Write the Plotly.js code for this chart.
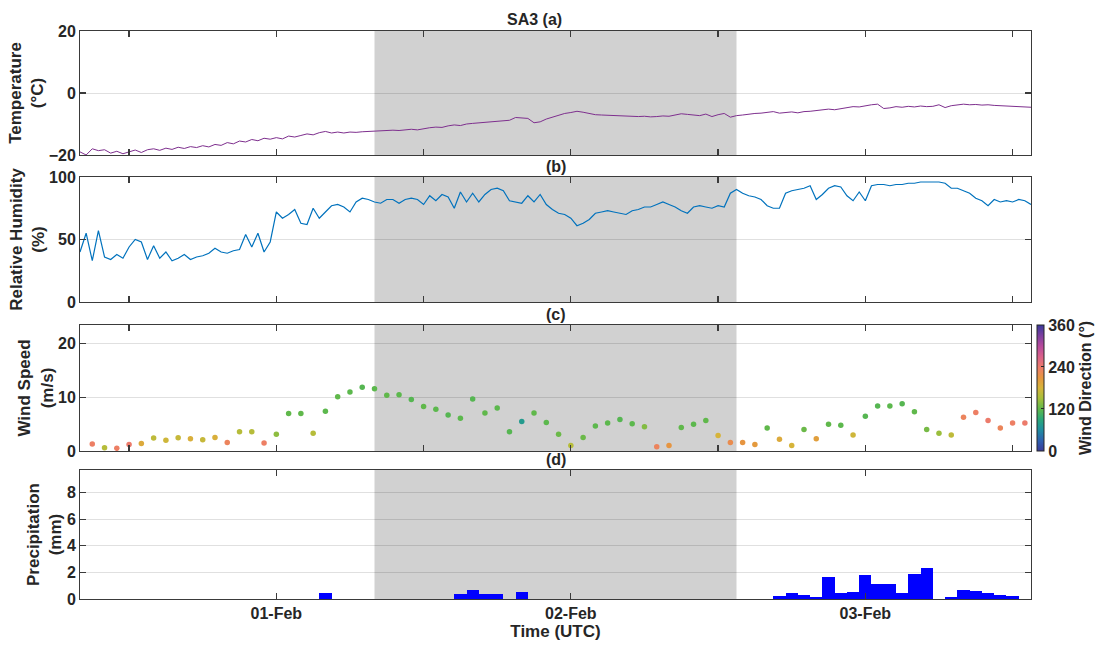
<!DOCTYPE html>
<html>
<head>
<meta charset="utf-8">
<script src="https://cdn.plot.ly/plotly-3.0.1.min.js"></script>
<style>html,body{margin:0;padding:0;background:#fff;}#chart{width:1101px;height:649px;}</style>
</head>
<body>
<div id="chart"></div>
<script>
// ---------- data ----------
const seriesStart = '2023-01-31 08:00';   // first 30-min sample
const stepMinutes = 30;
const xRange = ['2023-01-31 08:00', '2023-02-03 13:30'];
const nightStart = '2023-02-01 08:00';
const nightEnd = '2023-02-02 13:30';

const temperature = [
 -19.0,-20.0,-18.0,-18.6,-18.3,-19.4,-18.8,-19.6,-19.0,-18.4,
 -19.2,-18.3,-18.0,-18.5,-17.8,-18.2,-17.5,-17.9,-17.3,-17.6,
 -17.0,-17.4,-16.6,-16.9,-16.0,-16.4,-15.5,-15.8,-15.0,-15.4,
 -14.6,-14.9,-14.4,-14.8,-13.9,-14.2,-13.7,-13.2,-13.5,-12.8,
 -12.4,-12.9,-12.6,-12.9,-12.6,-12.7,-12.5,-12.4,-12.3,-12.1,
 -12.2,-12.0,-12.1,-11.8,-11.7,-11.9,-11.5,-11.2,-11.0,-11.1,
 -10.6,-10.3,-10.5,-10.0,-9.8,-9.6,-9.5,-9.3,-9.2,-9.0,
 -8.8,-7.9,-8.0,-8.2,-9.6,-9.3,-8.4,-7.8,-7.2,-6.6,
 -6.3,-5.9,-6.2,-6.6,-7.0,-7.1,-7.2,-7.2,-7.3,-7.5,
 -7.4,-7.6,-7.5,-7.7,-7.6,-7.4,-7.5,-7.1,-6.7,-6.9,
 -7.1,-7.3,-6.8,-7.6,-7.0,-6.6,-7.8,-7.3,-7.1,-6.8,
 -6.6,-6.5,-6.3,-6.0,-6.5,-6.3,-6.1,-6.4,-6.0,-5.9,
 -5.6,-5.4,-5.2,-5.4,-5.0,-4.8,-4.4,-4.5,-4.1,-3.8,
 -3.6,-5.0,-4.8,-4.4,-4.6,-4.3,-4.5,-4.2,-4.4,-4.3,
 -3.8,-4.7,-4.1,-3.8,-3.6,-3.8,-3.7,-3.9,-3.8,-4.0,
 -4.1,-4.1,-4.2,-4.3,-4.4,-4.6
];

const humidity = [
 40,55,33,57,36,34,38,35,44,50,
 48,34,45,35,40,33,35,38,34,36,
 37,39,43,40,39,41,42,54,44,55,
 40,48,72,67,70,74,63,62,75,67,
 72,77,78,76,72,80,83,82,80,79,
 82,82,79,82,83,82,78,85,81,86,
 84,75,88,80,87,80,86,90,91,89,
 81,80,79,85,80,86,78,74,71,70,
 67,61,63,66,71,72,73,72,71,70,
 73,74,76,76,78,80,78,76,73,71,
 76,77,76,75,77,76,87,90,87,85,
 84,82,77,75,75,87,89,90,91,93,
 82,86,91,93,92,85,81,88,81,93,
 94,94,93,94,94,95,95,96,96,96,
 96,95,91,91,89,87,83,81,77,82,
 80,81,80,82,81,78
];

const windStart = '2023-01-31 09:00';  // hourly
const windSpeed = [
 1.3,0.6,0.5,1.2,1.4,2.4,2.0,2.45,2.3,2.1,
 2.5,1.6,3.6,3.6,1.5,3.1,7.0,7.0,3.3,7.4,
 10.1,11.0,11.9,11.6,10.4,10.5,9.6,8.3,7.8,6.7,
 6.1,9.7,7.1,8.0,3.6,5.5,7.1,5.3,3.1,1.0,
 2.5,4.65,5.2,5.85,5.1,4.5,0.8,1.0,4.4,5.0,
 5.7,2.9,1.6,1.6,1.2,4.3,2.2,1.0,4.0,2.3,
 5.0,4.8,3.0,6.5,8.4,8.4,8.8,7.3,4.0,3.3,
 3.0,6.3,7.2,5.7,4.3,5.2,5.2
];
const windDir = [
 235,160,235,240,190,165,175,170,185,170,
 185,230,160,160,235,140,120,120,160,118,
 120,118,115,118,120,118,115,120,118,115,
 118,115,120,118,115,75,120,118,125,160,
 125,118,118,115,118,135,230,210,120,118,
 120,180,220,210,205,120,190,180,125,200,
 120,118,175,115,115,118,115,120,130,145,
 165,230,235,240,228,235,240
];

const precipTimes = [
 '2023-02-01 04:00','2023-02-01 15:00','2023-02-01 16:00','2023-02-01 17:00','2023-02-01 18:00','2023-02-01 20:00',
 '2023-02-02 17:00','2023-02-02 18:00','2023-02-02 19:00','2023-02-02 20:00','2023-02-02 21:00','2023-02-02 22:00','2023-02-02 23:00',
 '2023-02-03 00:00','2023-02-03 01:00','2023-02-03 02:00','2023-02-03 03:00','2023-02-03 04:00','2023-02-03 05:00',
 '2023-02-03 07:00','2023-02-03 08:00','2023-02-03 09:00','2023-02-03 10:00','2023-02-03 11:00','2023-02-03 12:00'
];
const precip = [
 0.42,0.40,0.65,0.40,0.40,0.52,
 0.26,0.47,0.32,0.16,1.63,0.42,0.50,
 1.82,1.10,1.10,0.42,1.89,2.34,
 0.16,0.68,0.58,0.42,0.29,0.21
];

const halfDayTicks = ['2023-01-31 12:00','2023-02-01 00:00','2023-02-01 12:00','2023-02-02 00:00','2023-02-02 12:00','2023-02-03 00:00','2023-02-03 12:00'];
const dayTicks = ['2023-02-01 00:00','2023-02-02 00:00','2023-02-03 00:00'];
const dayTickText = ['01-Feb','02-Feb','03-Feb'];

// ---------- helpers ----------
function toMs(s){ const [d,t]=s.split(' '); const [Y,M,D]=d.split('-').map(Number); const [h,m]=t.split(':').map(Number); return Date.UTC(Y,M-1,D,h,m); }
function timeSeries(start, stepMin, n){ const t0=toMs(start); const out=[]; for(let i=0;i<n;i++) out.push(t0+i*stepMin*60000); return out; }

const tT = timeSeries(seriesStart, stepMinutes, temperature.length);
const tH = timeSeries(seriesStart, stepMinutes, humidity.length);
const tW = timeSeries(windStart, 60, windSpeed.length);
const tP = precipTimes.map(toMs);

const TXT = '#262626';
const FONT = 'Liberation Sans, Arial, sans-serif';
const TICK = 16, TITLE = 17;

const dirScale = [
 [0,'#3a3a9a'],[0.08,'#2f5fb0'],[0.17,'#1f8fa0'],[0.25,'#2aa87a'],[0.33,'#5db84c'],
 [0.42,'#a8bf3a'],[0.5,'#d6b43a'],[0.58,'#e6963f'],[0.66,'#ee7d68'],[0.75,'#d9608a'],
 [0.83,'#b84a9c'],[0.92,'#7a3fa0'],[1,'#3a3a9a']
];

const dA = [0.7817,1.0], dB = [0.5229,0.7430], dC = [0.2606,0.4824], dD = [0,0.2271];

const traces = [
 {type:'scatter', mode:'lines', x:tT, y:temperature, xaxis:'x', yaxis:'y', line:{color:'#7E2F8E', width:1}, hoverinfo:'skip'},
 {type:'scatter', mode:'lines', x:tH, y:humidity, xaxis:'x2', yaxis:'y2', line:{color:'#0072BD', width:1.2}, hoverinfo:'skip'},
 {type:'scatter', mode:'markers', x:tW, y:windSpeed, xaxis:'x3', yaxis:'y3',
  marker:{size:5.5, color:windDir, colorscale:dirScale, cmin:0, cmax:360,
   colorbar:{x:1.0065, xanchor:'left', xref:'paper', y:(dC[0]+dC[1])/2, yanchor:'middle', len:dC[1]-dC[0], lenmode:'fraction',
    thickness:7, xpad:0, ypad:0, outlinewidth:1, outlinecolor:'#262626', tickvals:[0,120,240,360], ticks:'inside', ticklen:3, tickcolor:'#262626',
    tickfont:{family:FONT, size:TICK, color:TXT, weight:'bold'},
    title:{text:'Wind Direction (°)', side:'right', font:{family:FONT, size:TITLE-1, color:TXT, weight:'bold'}}}},
  hoverinfo:'skip'},
 {type:'bar', x:tP, y:precip, xaxis:'x4', yaxis:'y4', width:3600000, marker:{color:'#0000FF', line:{width:0}}, hoverinfo:'skip'}
];

const common = {showline:true, linecolor:'#3a3a3a', linewidth:1, mirror:'ticks', ticks:'inside', ticklen:6, tickcolor:'#3a3a3a', tickwidth:1.3, zeroline:false,
  tickfont:{family:FONT, size:TICK, color:TXT, weight:'bold'}};
function xax(anchor, labels){
  return Object.assign({}, common, {type:'date', anchor:anchor, range:xRange, showgrid:false,
    tickmode:'array', tickvals: labels ? dayTicks : halfDayTicks, ticktext: labels ? dayTickText : undefined, showticklabels:!!labels});
}
function yax(anchor, domain, range, tickvals, title){
  return Object.assign({}, common, {anchor:anchor, domain:domain, range:range, tickmode:'array', tickvals:tickvals,
    showgrid:true, gridcolor:'rgba(0,0,0,0.12)', gridwidth:1,
    title:{text:title, standoff:0, font:{family:FONT, size:TITLE, color:TXT, weight:'bold'}}});
}

const layout = {
  width:1101, height:649, margin:{l:80, r:70, t:31, b:50, autoexpand:false}, showlegend:false,
  paper_bgcolor:'#ffffff', plot_bgcolor:'#ffffff', bargap:0,
  font:{family:FONT, color:TXT},
  xaxis: xax('y', false), xaxis2: xax('y2', false), xaxis3: xax('y3', false),
  xaxis4: Object.assign(xax('y4', true), {title:{text:'Time (UTC)', standoff:2, font:{family:FONT, size:TITLE, color:TXT, weight:'bold'}}}),
  yaxis: yax('x', dA, [-20,20], [-20,0,20], 'Temperature<br>(°C)'),
  yaxis2: yax('x2', dB, [0,100], [0,50,100], 'Relative Humidity<br>(%)'),
  yaxis3: yax('x3', dC, [0,23.5], [0,10,20], 'Wind Speed<br>(m/s)'),
  yaxis4: yax('x4', dD, [0,9.7], [0,2,4,6,8], 'Precipitation<br>(mm)'),
  shapes: ['', '2', '3', '4'].map(s => ({type:'rect', layer:'below', xref:'x'+s, yref:'y'+s+' domain',
    x0:nightStart, x1:nightEnd, y0:0, y1:1, fillcolor:'#d1d1d1', line:{width:0}})),
  annotations: [
    {text:'SA3 (a)', xref:'paper', yref:'paper', x:0.5085, xanchor:'right', y:dA[1], yanchor:'bottom', yshift:1, showarrow:false, font:{family:FONT, size:TICK, color:TXT, weight:'bold'}},
    {text:'(b)', xref:'paper', yref:'paper', x:0.5, xanchor:'center', y:dB[1], yanchor:'bottom', yshift:0, showarrow:false, font:{family:FONT, size:TICK, color:TXT, weight:'bold'}},
    {text:'(c)', xref:'paper', yref:'paper', x:0.5, xanchor:'center', y:dC[1], yanchor:'bottom', yshift:0, showarrow:false, font:{family:FONT, size:TICK, color:TXT, weight:'bold'}},
    {text:'(d)', xref:'paper', yref:'paper', x:0.5, xanchor:'center', y:dD[1], yanchor:'bottom', yshift:0, showarrow:false, font:{family:FONT, size:TICK, color:TXT, weight:'bold'}}
  ]
};

Plotly.newPlot('chart', traces, layout, {staticPlot:true, displayModeBar:false});
</script>
</body>
</html>
